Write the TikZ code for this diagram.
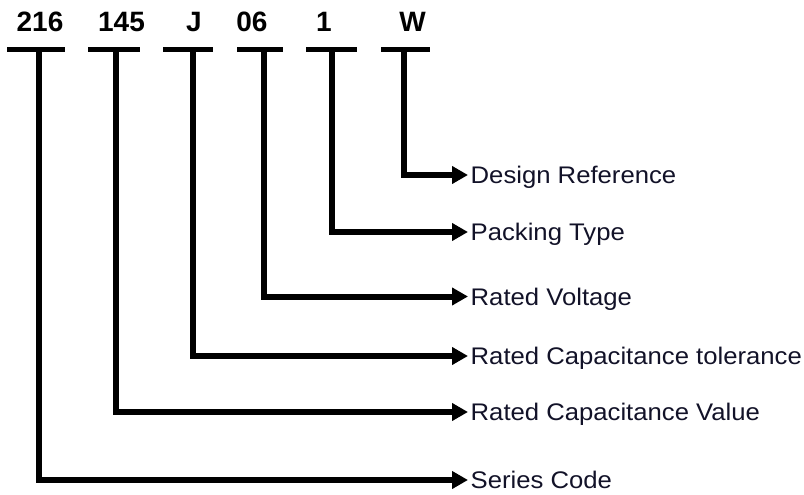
\documentclass[tikz,border=0pt]{standalone}
\usepackage{fontspec}
\setmainfont{Liberation Sans}
\newfontfamily\descfont[FakeStretch=1.07]{Liberation Sans}
\usetikzlibrary{arrows.meta}
\definecolor{txt}{RGB}{18,18,40}
\tikzset{
  code/.style={font=\fontsize{28}{30}\selectfont\bfseries, anchor=base, inner sep=0pt},
  desc/.style={font=\descfont\fontsize{24}{26}\selectfont, text=txt, anchor=west, inner xsep=2.5pt, inner ysep=0pt, text height=17.4pt, text depth=0pt},
  bar/.style={line width=5.5pt, line cap=butt},
  lead/.style={line width=6pt, line join=miter, line cap=butt, -{Triangle[length=16pt,width=17pt]}}
}
\begin{document}
\begin{tikzpicture}[x=1pt,y=-1pt]
\useasboundingbox (0,0) rectangle (804,495);
% top codes
\node[code] (t1) at (40,31.7) {216};
\node[code] (t2) at (121.5,31.7) {145};
\node[code] (t3) at (194,31.7) {J};
\node[code] (t4) at (252,31.7) {06};
\node[code] (t5) at (324,31.7) {1};
\node[code] (t6) at (412.5,31.7) {W};
% bars
\coordinate (b1l) at (7,49.5);   \coordinate (b1r) at (65,49.5);
\coordinate (b2l) at (88,49.5);  \coordinate (b2r) at (140,49.5);
\coordinate (b3l) at (163,49.5); \coordinate (b3r) at (213,49.5);
\coordinate (b4l) at (237,49.5); \coordinate (b4r) at (283,49.5);
\coordinate (b5l) at (306,49.5); \coordinate (b5r) at (357,49.5);
\coordinate (b6l) at (381,49.5); \coordinate (b6r) at (430,49.5);
\foreach \i in {1,...,6} { \draw[bar] (b\i l) -- (b\i r); }
% stem origins
\coordinate (s1) at (39,49.5);
\coordinate (s2) at (116,49.5);
\coordinate (s3) at (192.5,49.5);
\coordinate (s4) at (263.5,49.5);
\coordinate (s5) at (331.5,49.5);
\coordinate (s6) at (404,49.5);
% descriptions
\node[desc] (d6) at (468,175) {Design Reference};
\node[desc] (d5) at (468,232) {Packing Type};
\node[desc] (d4) at (468,296.5) {Rated Voltage};
\node[desc] (d3) at (468,356) {Rated Capacitance tolerance};
\node[desc] (d2) at (468,412) {Rated Capacitance Value};
\node[desc] (d1) at (468,480) {Series Code};
% connectors
\foreach \i in {1,...,6} { \draw[lead] (s\i) |- (d\i.west); }
\end{tikzpicture}
\end{document}
